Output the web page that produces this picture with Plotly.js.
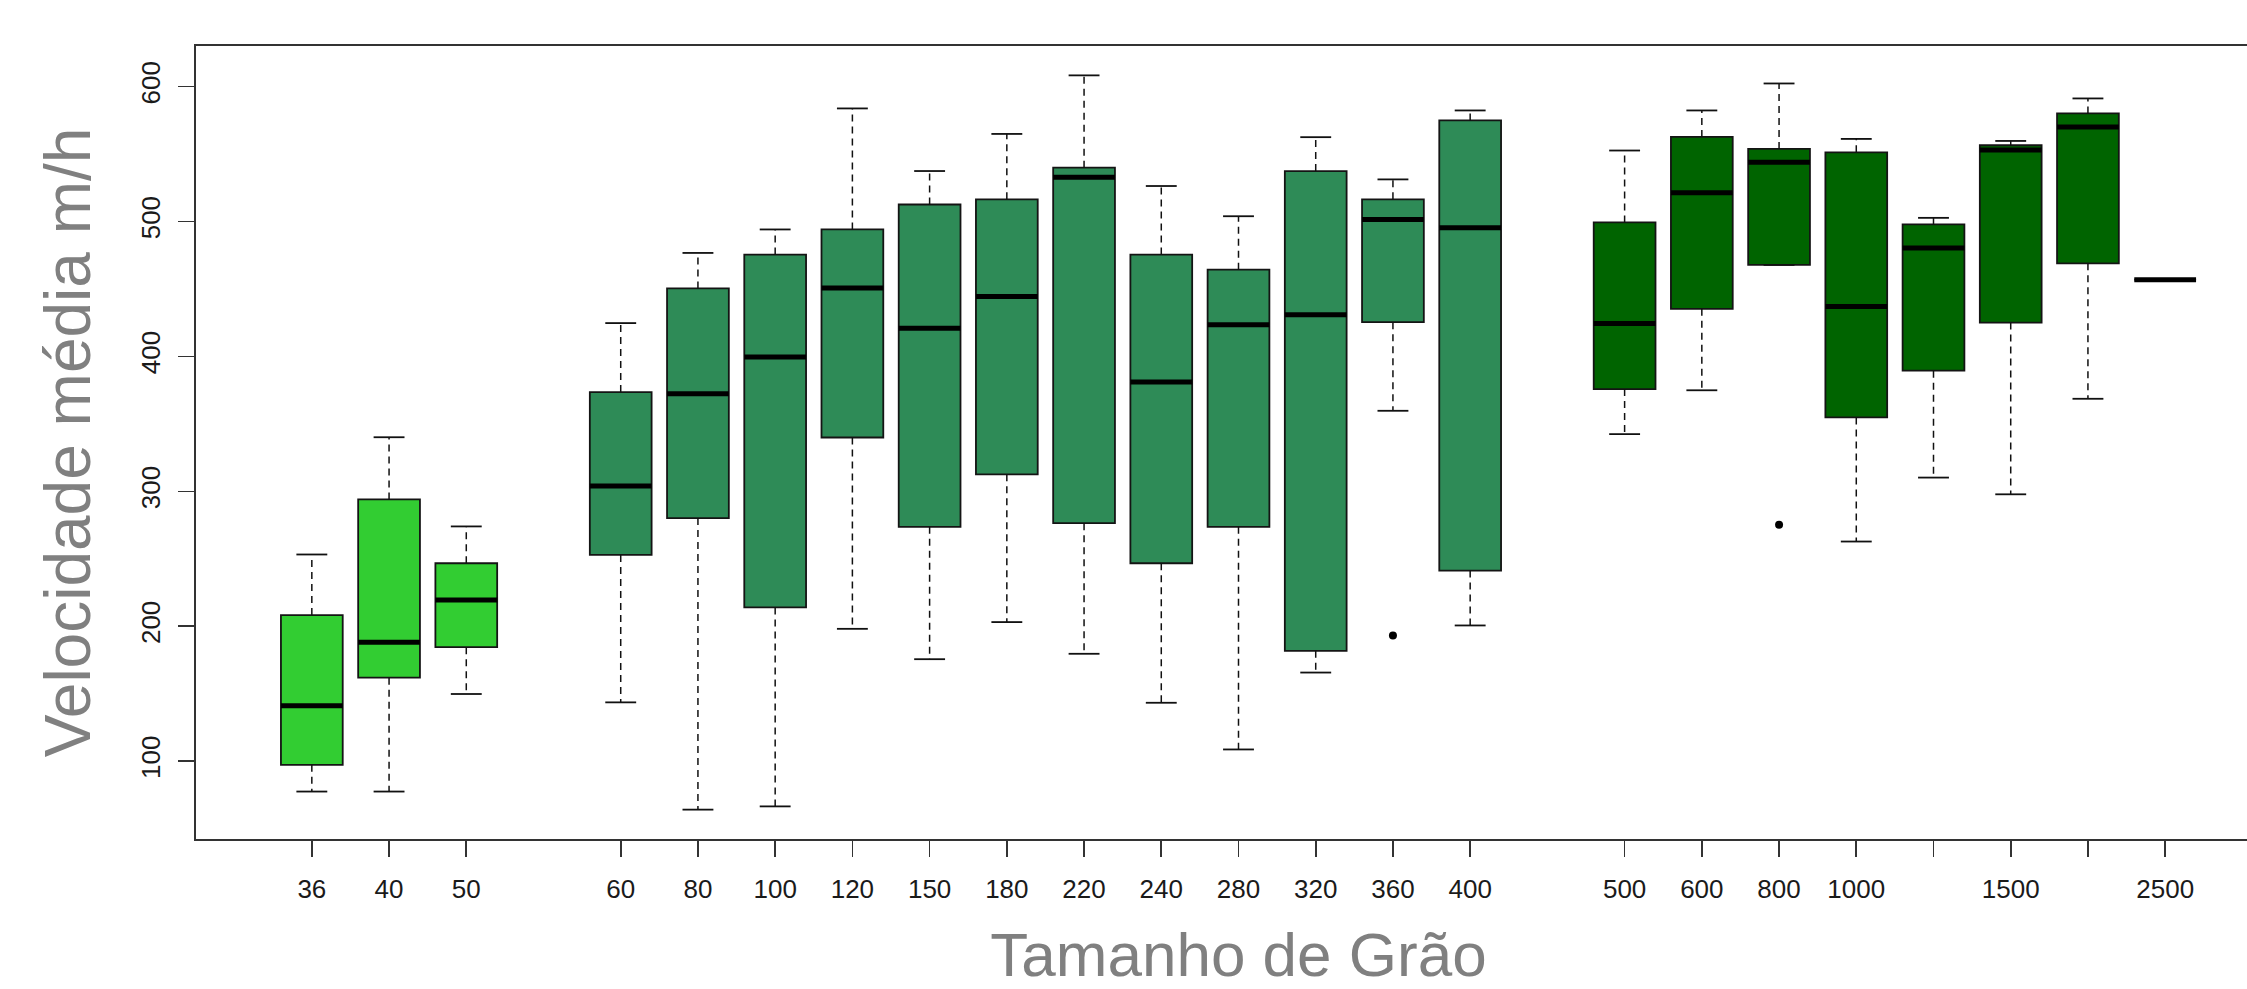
<!DOCTYPE html>
<html>
<head>
<meta charset="utf-8">
<script src="https://cdn.plot.ly/plotly-3.0.1.min.js"></script>
<style>
  html, body { margin: 0; padding: 0; background: #ffffff; overflow: hidden; }
  #chart { width: 2300px; height: 989px; }
</style>
</head>
<body>
<div id="chart"></div>
<script>
// ---- Data ----
// Tick labels of the grain sizes (two boxes have no printed label)
const grainLabels = ["36", "40", "50",
  "60", "80", "100", "120", "150", "180", "220", "240", "280", "320", "360", "400",
  "500", "600", "800", "1000", "", "1500", "", "2500"];
// Which colour family each box belongs to
const grainGroup = ["fine", "fine", "fine",
  "medium", "medium", "medium", "medium", "medium", "medium", "medium", "medium", "medium", "medium", "medium", "medium",
  "coarse", "coarse", "coarse", "coarse", "coarse", "coarse", "coarse", "coarse"];
// Box statistics (Velocidade média m/h)
const lowerWhisker = [77.5, 77.5, 149.8,
  143.6, 64.1, 66.5, 198.1, 175.6, 203.1, 179.6, 143.3, 108.7, 165.7, 359.7, 200.6,
  342.4, 374.9, 467.8, 262.8, 310.2, 297.8, 368.6, 456.9];
const q1Values = [97.3, 161.9, 184.5,
  252.9, 280.2, 214.0, 339.9, 273.7, 312.6, 276.4, 246.7, 273.7, 181.8, 425.4, 241.3,
  375.8, 435.3, 467.8, 354.8, 389.4, 425.1, 469.0, 456.9];
const medianValues = [141.1, 188.2, 219.5,
  303.9, 372.3, 399.6, 450.7, 420.8, 444.5, 532.7, 381.0, 423.4, 430.9, 501.5, 495.3,
  424.4, 521.3, 543.9, 437.0, 480.4, 553.0, 570.1, 456.9];
const q3Values = [208.3, 294.0, 246.7,
  373.6, 450.4, 475.5, 494.1, 512.6, 516.4, 539.9, 475.5, 464.3, 537.4, 516.4, 574.9,
  499.3, 562.7, 553.8, 551.3, 497.8, 556.5, 580.1, 456.9];
const upperWhisker = [253.2, 340.1, 274.0,
  424.7, 476.7, 494.1, 583.8, 537.4, 564.9, 608.3, 526.3, 503.9, 562.5, 531.2, 582.3,
  552.6, 582.3, 602.3, 561.2, 502.7, 559.7, 591.2, 456.9];
// Outliers: index of the box they belong to, and value
const outlierBox = [13, 17];   // "360" and "800"
const outlierValues = [193.2, 275.2];
const yTicks = [100, 200, 300, 400, 500, 600];

const groupColors = { fine: "#32CD32", medium: "#2E8B57", coarse: "#006400" };

// ---- Positions: consecutive slots, one empty slot between colour families ----
const pos = [];
let slot = 0;
grainGroup.forEach((g, i) => {
  slot += 1;
  if (i > 0 && g !== grainGroup[i - 1]) slot += 1;
  pos.push(slot);
});
const nSlots = slot;
const boxW = 0.8, capHalf = 0.2, medHalf = 0.4;

// ---- Box traces (one per colour family) ----
const traces = [];
Object.keys(groupColors).forEach(g => {
  const idx = grainGroup.map((gg, i) => gg === g ? i : -1).filter(i => i >= 0);
  traces.push({
    type: "box",
    x: idx.map(i => pos[i]),
    q1: idx.map(i => q1Values[i]),
    median: idx.map(i => medianValues[i]),
    q3: idx.map(i => q3Values[i]),
    lowerfence: idx.map(i => q1Values[i]),
    upperfence: idx.map(i => q3Values[i]),
    width: boxW,
    whiskerwidth: 0,
    fillcolor: groupColors[g],
    line: { color: "#141414", width: 1.8 },
    hoverinfo: "skip",
    showlegend: false
  });
});

// ---- Dashed whiskers ----
const wx = [], wy = [];
pos.forEach((p, i) => {
  if (lowerWhisker[i] < q1Values[i]) { wx.push(p, p, null); wy.push(q1Values[i], lowerWhisker[i], null); }
  if (upperWhisker[i] > q3Values[i]) { wx.push(p, p, null); wy.push(q3Values[i], upperWhisker[i], null); }
});
traces.push({
  type: "scatter", mode: "lines", x: wx, y: wy,
  line: { color: "#111111", width: 1.5, dash: "7px,5px" },
  hoverinfo: "skip", showlegend: false
});

// ---- Staples (caps) ----
const cx = [], cy = [];
pos.forEach((p, i) => {
  cx.push(p - capHalf, p + capHalf, null); cy.push(lowerWhisker[i], lowerWhisker[i], null);
  cx.push(p - capHalf, p + capHalf, null); cy.push(upperWhisker[i], upperWhisker[i], null);
});
traces.push({
  type: "scatter", mode: "lines", x: cx, y: cy,
  line: { color: "#111111", width: 1.8 },
  hoverinfo: "skip", showlegend: false
});

// ---- Thick medians ----
const mx = [], my = [];
pos.forEach((p, i) => {
  mx.push(p - medHalf, p + medHalf, null); my.push(medianValues[i], medianValues[i], null);
});
traces.push({
  type: "scatter", mode: "lines", x: mx, y: my,
  line: { color: "#000000", width: 5 },
  hoverinfo: "skip", showlegend: false
});

// ---- Outliers ----
traces.push({
  type: "scatter", mode: "markers",
  x: outlierBox.map(i => pos[i]), y: outlierValues,
  marker: { color: "#000000", size: 8 },
  hoverinfo: "skip", showlegend: false
});

// ---- Ranges like R's defaults (4% padding) ----
const allLow = Math.min(...lowerWhisker, ...outlierValues);
const allHigh = Math.max(...upperWhisker, ...outlierValues);
const ySpan = allHigh - allLow;
const yRange = [allLow - 0.04 * ySpan, allHigh + 0.04 * ySpan];
const xSpan = nSlots;
const xRange = [0.5 - 0.04 * xSpan, nSlots + 0.5 + 0.04 * xSpan];

const tickFont = { family: "Liberation Sans, Arial, sans-serif", size: 26, color: "#1a1a1a" };
const titleFontFamily = "Liberation Sans, Arial, sans-serif";

const layout = {
  width: 2300, height: 989,
  margin: { l: 196, r: 19, t: 46, b: 150 },
  paper_bgcolor: "#ffffff", plot_bgcolor: "#ffffff",
  showlegend: false,
  boxmode: "overlay",
  xaxis: {
    range: xRange,
    tickmode: "array", tickvals: pos, ticktext: grainLabels,
    ticks: "outside", ticklen: 16, tickwidth: 1.6, tickcolor: "#333333",
    showline: true, linecolor: "#333333", linewidth: 2, mirror: true,
    showgrid: false, zeroline: false,
    tickfont: tickFont, tickangle: 0,
    ticklabelstandoff: 10,
    title: { text: "Tamanho de Grão", font: { family: titleFontFamily, size: 62, color: "#808080" }, standoff: 30 },
    automargin: false, fixedrange: true
  },
  yaxis: {
    range: yRange,
    tickmode: "array", tickvals: yTicks, ticktext: yTicks.map(String),
    ticks: "outside", ticklen: 16, tickwidth: 1.6, tickcolor: "#333333",
    showline: true, linecolor: "#333333", linewidth: 2, mirror: true,
    showgrid: false, zeroline: false,
    tickfont: tickFont, tickangle: -90,
    ticklabelstandoff: 8,
    title: { text: "Velocidade média m/h", font: { family: titleFontFamily, size: 64, color: "#808080" }, standoff: 24 },
    automargin: false, fixedrange: true
  }
};

Plotly.newPlot("chart", traces, layout, { displayModeBar: false, staticPlot: true });
</script>
</body>
</html>
